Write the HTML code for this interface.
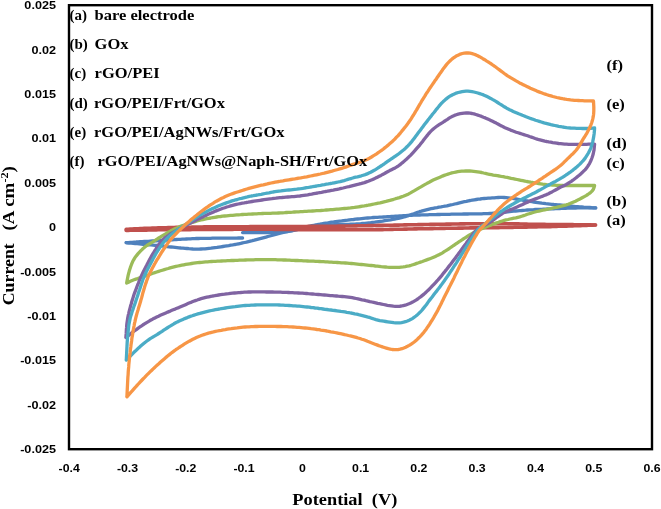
<!DOCTYPE html>
<html><head><meta charset="utf-8"><style>
html,body{margin:0;padding:0;background:#fff;}
svg{display:block;will-change:transform;}
.tick{font-family:"Liberation Sans",sans-serif;font-weight:bold;font-size:11px;fill:#000;}
.leg{font-family:"Liberation Serif",serif;font-weight:bold;font-size:15px;fill:#000;}
.rl{font-family:"Liberation Serif",serif;font-weight:bold;font-size:14px;fill:#000;}
.ttl{font-family:"Liberation Serif",serif;font-weight:bold;font-size:17px;fill:#000;}
</style></head><body>
<svg width="661" height="509" viewBox="0 0 661 509">
<rect x="0" y="0" width="661" height="509" fill="#fff"/>
<rect x="69" y="5.2" width="583" height="444" fill="none" stroke="#000" stroke-width="2.4"/>
<g fill="none" stroke-linecap="round" stroke-linejoin="round">
<path d="M126.2,242.7 L128.2,242.6 130.2,242.4 132.2,242.3 134.2,242.1 136.2,242.0 138.2,241.8 140.2,241.7 142.2,241.6 144.2,241.5 146.2,241.4 148.3,241.3 150.3,241.1 152.3,241.0 154.3,240.9 156.3,240.8 158.3,240.7 160.3,240.6 162.3,240.4 164.3,240.3 166.3,240.2 168.3,240.0 170.3,239.9 172.3,239.8 174.3,239.7 176.3,239.5 178.3,239.4 180.3,239.3 182.3,239.2 184.4,239.1 186.4,239.0 188.4,238.9 190.4,238.8 192.4,238.7 194.4,238.6 196.4,238.5 198.4,238.5 200.4,238.4 202.4,238.4 204.4,238.4 206.4,238.3 208.4,238.3 210.5,238.3 212.5,238.2 214.5,238.2 216.5,238.2 218.5,238.2 220.5,238.2 222.5,238.2 224.5,238.1 226.5,238.1 228.5,238.1 230.5,238.1 232.6,238.1 234.6,238.1 236.6,238.1 238.6,238.0 240.6,238.0 242.6,238.0" stroke="#4F81BD" stroke-width="3.3"/>
<path d="M242.6,232.6 L244.6,232.6 246.6,232.6 248.6,232.6 250.6,232.6 252.6,232.6 254.6,232.6 256.6,232.6 258.6,232.6 260.6,232.6 262.6,232.6 264.6,232.6 266.6,232.6 268.7,232.7 270.7,232.6 272.7,232.6 274.7,232.5 276.7,232.4 278.7,232.3 280.7,232.1 282.7,232.0 284.7,231.8 286.6,231.5 288.6,231.3 290.6,230.9 292.6,230.6 294.5,230.1 296.5,229.7 298.4,229.2 300.4,228.7 302.3,228.2 304.2,227.7 306.2,227.2 308.1,226.7 310.1,226.2 312.0,225.7 314.0,225.3 315.9,224.9 317.9,224.5 319.9,224.2 321.8,223.8 323.8,223.5 325.8,223.2 327.8,222.9 329.8,222.5 331.7,222.2 333.7,222.0 335.7,221.7 337.7,221.4 339.7,221.1 341.7,220.9 343.7,220.6 345.6,220.4 347.6,220.2 349.6,219.9 351.6,219.7 353.6,219.5 355.6,219.2 357.6,219.0 359.6,218.8 361.6,218.6 363.6,218.4 365.6,218.2 367.6,218.0 369.6,217.8 371.6,217.7 373.6,217.5 375.6,217.4 377.6,217.3 379.6,217.2 381.6,217.1 383.6,217.0 385.6,216.9 387.6,216.7 389.6,216.6 391.6,216.5 393.6,216.4 395.6,216.2 397.6,216.1 399.6,216.0 401.6,215.9 403.6,215.7 405.6,215.6 407.6,215.5 409.6,215.4 411.6,215.3 413.6,215.2 415.6,215.1 417.6,215.1 419.6,215.0 421.6,214.9 423.6,214.9 425.6,214.8 427.6,214.8 429.6,214.7 431.6,214.7 433.6,214.6 435.6,214.6 437.6,214.5 439.6,214.5 441.6,214.4 443.6,214.4 445.6,214.4 447.6,214.3 449.6,214.3 451.6,214.2 453.6,214.2 455.6,214.2 457.6,214.1 459.6,214.1 461.7,214.1 463.7,214.0 465.7,214.0 467.7,214.0 469.7,213.9 471.7,213.9 473.7,213.9 475.7,213.9 477.7,213.8 479.7,213.8 481.7,213.8 483.7,213.7 485.7,213.7 487.7,213.6 489.7,213.5 491.7,213.4 493.7,213.2 495.7,213.1 497.7,212.9 499.7,212.7 501.7,212.4 503.7,212.2 505.7,212.0 507.7,211.8 509.6,211.6 511.6,211.4 513.6,211.2 515.6,211.0 517.6,210.8 519.6,210.6 521.6,210.5 523.6,210.3 525.6,210.2 527.6,210.0 529.6,209.9 531.6,209.8 533.6,209.7 535.6,209.5 537.6,209.4 539.6,209.3 541.6,209.3 543.6,209.2 545.6,209.1 547.6,209.0 549.6,208.9 551.6,208.8 553.6,208.8 555.6,208.7 557.6,208.6 559.6,208.5 561.6,208.4 563.6,208.4 565.6,208.3 567.6,208.2 569.7,208.1 571.7,208.1 573.7,208.0 575.7,208.0 577.7,207.9 579.7,207.9 581.7,207.9 583.7,207.9 585.7,207.9 587.7,207.9 589.7,207.9 591.7,207.9 593.7,207.9 595.7,207.9" stroke="#4F81BD" stroke-width="3.3"/>
<path d="M595.7,207.9 L593.7,207.8 591.7,207.7 589.7,207.5 587.7,207.4 585.7,207.3 583.7,207.2 581.7,207.0 579.7,206.9 577.7,206.7 575.7,206.6 573.7,206.4 571.7,206.2 569.7,206.0 567.7,205.8 565.7,205.6 563.7,205.4 561.8,205.2 559.8,205.0 557.8,204.8 555.8,204.6 553.8,204.5 551.8,204.3 549.8,204.1 547.8,203.9 545.8,203.7 543.8,203.4 541.8,203.2 539.8,202.9 537.9,202.6 535.9,202.3 533.9,202.0 531.9,201.7 529.9,201.4 528.0,201.0 526.0,200.7 524.0,200.3 522.0,200.0 520.1,199.6 518.1,199.3 516.1,199.0 514.1,198.7 512.2,198.4 510.2,198.1 508.2,197.8 506.2,197.6 504.2,197.5 502.2,197.4 500.2,197.4 498.2,197.5 496.2,197.6 494.2,197.8 492.2,197.9 490.2,198.1 488.2,198.2 486.2,198.4 484.2,198.5 482.2,198.7 480.2,199.0 478.2,199.2 476.3,199.5 474.3,199.8 472.3,200.1 470.3,200.5 468.4,200.8 466.4,201.3 464.4,201.7 462.5,202.1 460.5,202.6 458.6,203.1 456.7,203.6 454.7,204.0 452.8,204.5 450.8,204.9 448.8,205.3 446.9,205.8 444.9,206.1 442.9,206.5 441.0,206.9 439.0,207.2 437.0,207.6 435.1,207.9 433.1,208.3 431.1,208.7 429.2,209.1 427.2,209.6 425.3,210.1 423.4,210.6 421.4,211.2 419.5,211.7 417.6,212.3 415.7,213.0 413.8,213.7 411.9,214.3 410.0,215.0 408.1,215.7 406.2,216.3 404.3,216.8 402.4,217.4 400.4,217.9 398.5,218.3 396.5,218.7 394.6,219.1 392.6,219.4 390.6,219.8 388.6,220.1 386.7,220.4 384.7,220.7 382.7,221.1 380.7,221.3 378.7,221.6 376.8,221.9 374.8,222.2 372.8,222.4 370.8,222.7 368.8,222.9 366.8,223.1 364.8,223.3 362.8,223.5 360.8,223.7 358.8,223.8 356.8,223.9 354.8,224.1 352.8,224.2 350.8,224.2 348.8,224.3 346.8,224.4 344.8,224.4 342.8,224.5 340.8,224.5 338.8,224.6 336.8,224.7 334.8,224.7 332.8,224.8 330.8,225.0 328.8,225.1 326.8,225.3 324.8,225.4 322.8,225.6 320.8,225.8 318.8,226.0 316.8,226.3 314.9,226.5 312.9,226.8 310.9,227.1 308.9,227.4 306.9,227.8 305.0,228.1 303.0,228.5 301.0,228.8 299.1,229.2 297.1,229.6 295.1,230.0 293.2,230.4 291.2,230.8 289.2,231.2 287.3,231.6 285.3,232.0 283.4,232.5 281.4,233.0 279.5,233.4 277.5,233.9 275.6,234.5 273.7,235.0 271.7,235.5 269.8,236.0 267.9,236.5 265.9,237.1 264.0,237.6 262.1,238.1 260.1,238.6 258.2,239.1 256.3,239.6 254.3,240.2 252.4,240.7 250.4,241.1 248.5,241.6 246.5,242.1 244.6,242.5 242.6,242.9 240.7,243.4 238.7,243.8 236.7,244.2 234.8,244.5 232.8,244.9 230.8,245.2 228.8,245.6 226.9,245.9 224.9,246.2 222.9,246.5 220.9,246.8 218.9,247.1 217.0,247.4 215.0,247.6 213.0,247.9 211.0,248.2 209.0,248.4 207.0,248.6 205.0,248.8 203.0,248.9 201.0,249.0 199.0,249.1 197.0,249.1 195.0,249.1 193.0,249.0 191.0,248.8 189.0,248.7 187.0,248.5 185.0,248.3 183.0,248.1 181.0,248.0 179.0,247.8 177.1,247.6 175.1,247.4 173.1,247.2 171.1,247.0 169.1,246.8 167.1,246.6 165.1,246.3 163.1,246.1 161.1,245.9 159.1,245.7 157.1,245.5 155.1,245.3 153.1,245.1 151.1,244.9 149.1,244.8 147.2,244.6 145.2,244.4 143.2,244.3 141.2,244.1 139.2,243.9 137.2,243.7 135.2,243.6 133.2,243.4 131.2,243.2 129.2,243.0 127.2,242.8 126.2,242.7" stroke="#4F81BD" stroke-width="3.3"/>
<path d="M126.2,229.4 L128.2,229.3 130.2,229.1 132.2,229.0 134.2,228.9 136.2,228.8 138.2,228.7 140.2,228.6 142.2,228.5 144.2,228.4 146.2,228.3 148.2,228.3 150.2,228.2 152.2,228.1 154.2,228.0 156.2,228.0 158.2,227.9 160.2,227.9 162.2,227.8 164.2,227.8 166.2,227.7 168.2,227.6 170.2,227.6 172.2,227.5 174.2,227.5 176.2,227.4 178.2,227.4 180.2,227.4 182.2,227.3 184.2,227.3 186.2,227.2 188.2,227.2 190.2,227.2 192.2,227.1 194.2,227.1 196.2,227.1 198.2,227.0 200.2,227.0 202.2,227.0 204.2,226.9 206.2,226.9 208.2,226.9 210.2,226.9 212.2,226.8 214.2,226.8 216.2,226.8 218.2,226.8 220.2,226.8 222.2,226.8 224.2,226.8 226.2,226.7 228.2,226.7 230.2,226.7 232.2,226.7 234.2,226.7 236.2,226.7 238.2,226.7 240.2,226.7 242.2,226.7 244.2,226.7 246.2,226.7 248.3,226.7 250.3,226.6 252.3,226.6 254.3,226.6 256.3,226.6 258.3,226.6 260.3,226.6 262.3,226.6 264.3,226.6 266.3,226.6 268.3,226.6 270.3,226.6 272.3,226.6 274.3,226.6 276.3,226.6 278.3,226.6 280.3,226.5 282.3,226.5 284.3,226.5 286.3,226.5 288.3,226.5 290.3,226.5 292.3,226.5 294.3,226.5 296.3,226.5 298.3,226.5 300.3,226.5 302.3,226.5 304.3,226.5 306.3,226.5 308.3,226.4 310.3,226.4 312.3,226.4 314.3,226.4 316.3,226.4 318.3,226.4 320.3,226.3 322.3,226.3 324.3,226.3 326.3,226.3 328.3,226.3 330.3,226.2 332.3,226.2 334.3,226.2 336.3,226.2 338.3,226.1 340.3,226.1 342.3,226.1 344.3,226.1 346.3,226.0 348.3,226.0 350.3,226.0 352.3,226.0 354.3,225.9 356.3,225.9 358.3,225.8 360.3,225.8 362.3,225.8 364.3,225.7 366.3,225.7 368.3,225.6 370.3,225.6 372.3,225.6 374.3,225.5 376.3,225.5 378.3,225.4 380.4,225.4 382.4,225.4 384.4,225.3 386.4,225.3 388.4,225.3 390.4,225.2 392.4,225.2 394.4,225.1 396.4,225.1 398.4,225.1 400.4,225.0 402.4,225.0 404.4,224.9 406.4,224.9 408.4,224.8 410.4,224.8 412.4,224.8 414.4,224.7 416.4,224.7 418.4,224.6 420.4,224.6 422.4,224.6 424.4,224.5 426.4,224.5 428.4,224.5 430.4,224.4 432.4,224.4 434.4,224.4 436.4,224.3 438.4,224.3 440.4,224.2 442.4,224.2 444.4,224.2 446.4,224.1 448.4,224.1 450.4,224.1 452.4,224.0 454.4,224.0 456.4,224.0 458.4,224.0 460.4,223.9 462.4,223.9 464.4,223.9 466.4,223.8 468.4,223.8 470.4,223.8 472.4,223.8 474.4,223.7 476.4,223.7 478.4,223.7 480.4,223.7 482.4,223.7 484.4,223.7 486.4,223.7 488.4,223.7 490.4,223.7 492.4,223.7 494.4,223.7 496.4,223.7 498.4,223.7 500.4,223.7 502.4,223.7 504.4,223.7 506.4,223.8 508.4,223.8 510.4,223.8 512.4,223.8 514.4,223.9 516.4,223.9 518.4,223.9 520.4,224.0 522.4,224.0 524.4,224.1 526.5,224.1 528.5,224.2 530.5,224.2 532.5,224.3 534.5,224.3 536.5,224.3 538.5,224.4 540.5,224.4 542.5,224.4 544.5,224.4 546.5,224.5 548.5,224.5 550.5,224.5 552.5,224.5 554.5,224.5 556.5,224.5 558.5,224.5 560.5,224.5 562.5,224.5 564.5,224.6 566.5,224.6 568.5,224.6 570.5,224.6 572.5,224.6 574.5,224.7 576.5,224.7 578.5,224.7 580.5,224.8 582.5,224.8 584.5,224.8 586.5,224.9 588.5,224.9 590.5,224.9 592.5,225.0 594.5,225.0 595.5,225.0" stroke="#C0504D" stroke-width="3.6"/>
<path d="M126.2,230.4 L128.2,230.4 130.2,230.3 132.2,230.3 134.2,230.3 136.2,230.3 138.2,230.2 140.2,230.2 142.2,230.2 144.2,230.1 146.2,230.1 148.2,230.0 150.2,230.0 152.2,229.9 154.2,229.9 156.2,229.9 158.2,229.8 160.2,229.8 162.2,229.8 164.2,229.8 166.2,229.7 168.2,229.7 170.2,229.7 172.2,229.7 174.2,229.7 176.2,229.7 178.2,229.6 180.2,229.6 182.2,229.6 184.2,229.6 186.2,229.6 188.2,229.6 190.2,229.6 192.2,229.5 194.2,229.5 196.2,229.5 198.2,229.5 200.3,229.5 202.3,229.5 204.3,229.5 206.3,229.5 208.3,229.5 210.3,229.4 212.3,229.4 214.3,229.4 216.3,229.4 218.3,229.4 220.3,229.4 222.3,229.4 224.3,229.4 226.3,229.4 228.3,229.4 230.3,229.4 232.3,229.4 234.3,229.3 236.3,229.3 238.3,229.3 240.3,229.3 242.3,229.3 244.3,229.3 246.3,229.3 248.3,229.3 250.3,229.3 252.3,229.3 254.3,229.3 256.3,229.3 258.3,229.3 260.3,229.3 262.3,229.3 264.3,229.3 266.3,229.3 268.3,229.3 270.3,229.3 272.3,229.3 274.3,229.4 276.3,229.4 278.3,229.4 280.3,229.4 282.3,229.4 284.3,229.5 286.3,229.5 288.3,229.5 290.3,229.5 292.3,229.5 294.3,229.6 296.3,229.6 298.3,229.6 300.3,229.6 302.3,229.6 304.3,229.6 306.3,229.6 308.3,229.7 310.3,229.7 312.3,229.7 314.3,229.7 316.3,229.7 318.3,229.7 320.3,229.7 322.3,229.7 324.3,229.7 326.3,229.7 328.3,229.7 330.4,229.8 332.4,229.8 334.4,229.8 336.4,229.8 338.4,229.8 340.4,229.8 342.4,229.8 344.4,229.8 346.4,229.8 348.4,229.8 350.4,229.8 352.4,229.8 354.4,229.8 356.4,229.8 358.4,229.8 360.4,229.8 362.4,229.8 364.4,229.7 366.4,229.7 368.4,229.7 370.4,229.7 372.4,229.7 374.4,229.7 376.4,229.6 378.4,229.6 380.4,229.6 382.4,229.6 384.4,229.5 386.4,229.5 388.4,229.5 390.4,229.4 392.4,229.4 394.4,229.3 396.4,229.3 398.4,229.3 400.4,229.2 402.4,229.2 404.4,229.1 406.4,229.1 408.4,229.0 410.4,229.0 412.4,229.0 414.4,228.9 416.4,228.9 418.4,228.8 420.4,228.8 422.4,228.8 424.4,228.7 426.4,228.7 428.4,228.7 430.4,228.6 432.4,228.6 434.4,228.5 436.4,228.5 438.4,228.5 440.4,228.4 442.4,228.4 444.4,228.4 446.4,228.3 448.4,228.3 450.4,228.3 452.4,228.2 454.4,228.2 456.4,228.2 458.4,228.1 460.4,228.1 462.4,228.1 464.4,228.0 466.4,228.0 468.4,228.0 470.4,227.9 472.4,227.9 474.4,227.9 476.4,227.8 478.4,227.8 480.4,227.8 482.5,227.8 484.5,227.7 486.5,227.7 488.5,227.7 490.5,227.7 492.5,227.6 494.5,227.6 496.5,227.6 498.5,227.6 500.5,227.5 502.5,227.5 504.5,227.5 506.5,227.5 508.5,227.4 510.5,227.4 512.5,227.4 514.5,227.3 516.5,227.3 518.5,227.2 520.5,227.2 522.5,227.2 524.5,227.1 526.5,227.1 528.5,227.0 530.5,227.0 532.5,227.0 534.5,226.9 536.5,226.9 538.5,226.8 540.5,226.8 542.5,226.7 544.5,226.7 546.5,226.7 548.5,226.6 550.5,226.6 552.5,226.5 554.5,226.5 556.5,226.4 558.5,226.3 560.5,226.3 562.5,226.2 564.5,226.2 566.5,226.1 568.5,226.0 570.5,226.0 572.5,225.9 574.5,225.8 576.5,225.8 578.5,225.7 580.5,225.6 582.5,225.5 584.5,225.4 586.5,225.4 588.5,225.3 590.5,225.2 592.5,225.1 594.5,225.0 595.5,225.0" stroke="#C0504D" stroke-width="3.6"/>
<path d="M126.7,283.0 L127.0,281.0 127.4,279.1 127.8,277.1 128.2,275.1 128.7,273.2 129.2,271.3 129.8,269.3 130.4,267.4 131.1,265.5 131.8,263.7 132.6,261.8 133.5,260.1 134.5,258.4 135.6,256.7 136.9,255.1 138.1,253.6 139.5,252.1 140.9,250.7 142.3,249.3 143.8,247.9 145.3,246.6 146.9,245.5 148.6,244.4 150.3,243.3 152.0,242.3 153.7,241.3 155.5,240.2 157.1,239.1 158.8,238.0 160.5,237.0 162.2,235.9 163.9,234.8 165.6,233.8 167.3,232.8 169.1,231.8 170.8,230.8 172.6,229.9 174.4,229.0 176.2,228.2 178.1,227.4 179.9,226.6 181.8,225.9 183.7,225.2 185.6,224.6 187.5,223.9 189.4,223.3 191.3,222.7 193.2,222.1 195.1,221.6 197.0,221.0 199.0,220.5 200.9,220.0 202.9,219.6 204.8,219.2 206.8,218.7 208.8,218.3 210.7,218.0 212.7,217.6 214.7,217.3 216.7,217.0 218.6,216.7 220.6,216.5 222.6,216.2 224.6,216.0 226.6,215.8 228.6,215.6 230.6,215.4 232.6,215.3 234.6,215.1 236.6,214.9 238.6,214.8 240.6,214.7 242.6,214.5 244.6,214.4 246.6,214.3 248.6,214.2 250.6,214.1 252.6,214.0 254.6,213.9 256.6,213.8 258.6,213.7 260.6,213.6 262.6,213.5 264.6,213.4 266.6,213.4 268.6,213.3 270.6,213.3 272.6,213.2 274.6,213.1 276.6,213.1 278.6,213.0 280.6,212.9 282.6,212.8 284.6,212.7 286.6,212.5 288.6,212.4 290.6,212.3 292.6,212.2 294.6,212.0 296.6,211.9 298.6,211.8 300.6,211.7 302.6,211.6 304.6,211.4 306.6,211.3 308.6,211.2 310.6,211.1 312.6,211.0 314.6,210.9 316.6,210.7 318.6,210.6 320.6,210.5 322.6,210.3 324.6,210.2 326.6,210.0 328.6,209.9 330.6,209.7 332.6,209.6 334.6,209.4 336.6,209.2 338.6,209.1 340.6,208.9 342.5,208.7 344.5,208.5 346.5,208.3 348.5,208.1 350.5,207.9 352.5,207.6 354.5,207.4 356.5,207.1 358.5,206.8 360.4,206.5 362.4,206.2 364.4,205.9 366.4,205.5 368.3,205.2 370.3,204.8 372.3,204.4 374.2,204.0 376.2,203.6 378.2,203.2 380.1,202.8 382.1,202.3 384.0,201.8 386.0,201.4 387.9,200.9 389.8,200.4 391.8,199.8 393.7,199.3 395.6,198.7 397.5,198.2 399.5,197.6 401.4,196.9 403.2,196.3 405.1,195.5 406.9,194.7 408.7,193.9 410.5,192.9 412.2,191.9 414.0,190.9 415.7,189.9 417.4,188.9 419.1,187.9 420.9,186.9 422.6,185.9 424.3,184.9 426.1,183.9 427.8,182.9 429.6,182.0 431.4,181.0 433.2,180.1 435.0,179.3 436.8,178.5 438.7,177.7 440.5,176.9 442.4,176.1 444.2,175.4 446.1,174.7 448.0,174.1 449.9,173.5 451.8,172.9 453.8,172.5 455.7,172.1 457.7,171.7 459.7,171.4 461.7,171.2 463.7,171.1 465.7,171.0 467.7,171.0 469.7,171.0 471.7,171.2 473.7,171.4 475.7,171.6 477.6,171.9 479.6,172.2 481.6,172.5 483.6,173.0 485.5,173.4 487.4,173.9 489.4,174.3 491.4,174.7 493.3,175.1 495.3,175.4 497.3,175.7 499.3,176.0 501.2,176.4 503.2,176.7 505.2,177.1 507.2,177.4 509.1,177.8 511.1,178.3 513.0,178.7 515.0,179.1 517.0,179.5 518.9,179.9 520.9,180.3 522.8,180.7 524.8,181.1 526.8,181.5 528.7,181.8 530.7,182.2 532.7,182.5 534.7,182.9 536.6,183.2 538.6,183.5 540.6,183.8 542.6,184.1 544.6,184.3 546.6,184.6 548.6,184.8 550.5,184.9 552.5,185.1 554.5,185.2 556.5,185.3 558.5,185.4 560.5,185.5 562.5,185.5 564.6,185.6 566.6,185.6 568.6,185.6 570.6,185.6 572.6,185.5 574.6,185.5 576.6,185.5 578.6,185.5 580.6,185.5 582.6,185.5 584.6,185.5 586.6,185.5 588.6,185.5 590.6,185.5 592.6,185.5 594.6,185.5 L594.1,187.4 593.4,189.2 592.3,190.8 590.9,192.2 589.4,193.4 587.8,194.5 586.1,195.6 584.3,196.6 582.6,197.5 580.8,198.5 579.0,199.4 577.3,200.3 575.5,201.2 573.6,202.0 571.8,202.8 570.0,203.6 568.1,204.3 566.2,204.9 564.3,205.4 562.3,205.9 560.4,206.4 558.4,206.8 556.5,207.3 554.5,207.7 552.6,208.1 550.6,208.6 548.7,209.0 546.7,209.4 544.7,209.8 542.8,210.2 540.8,210.6 538.9,211.1 536.9,211.5 535.0,212.0 533.1,212.5 531.1,213.1 529.2,213.7 527.3,214.3 525.5,215.0 523.6,215.6 521.7,216.2 519.7,216.8 517.8,217.3 515.9,217.8 513.9,218.2 512.0,218.6 510.0,219.0 508.0,219.5 506.1,219.9 504.2,220.4 502.3,221.0 500.4,221.6 498.5,222.3 496.6,222.9 494.7,223.6 492.8,224.3 491.0,225.1 489.1,225.8 487.2,226.5 485.4,227.3 483.5,228.0 481.7,228.8 479.8,229.6 478.0,230.4 476.2,231.2 474.4,232.2 472.7,233.1 471.0,234.1 469.2,235.2 467.6,236.2 465.9,237.3 464.2,238.4 462.5,239.5 460.9,240.6 459.2,241.7 457.5,242.8 455.9,243.9 454.2,245.1 452.6,246.2 450.9,247.3 449.3,248.5 447.6,249.6 445.9,250.7 444.2,251.7 442.5,252.8 440.8,253.8 439.0,254.7 437.2,255.6 435.4,256.4 433.6,257.2 431.7,258.0 429.9,258.7 428.0,259.4 426.1,260.1 424.3,260.8 422.4,261.5 420.5,262.1 418.6,262.8 416.7,263.4 414.8,264.1 412.9,264.7 411.0,265.3 409.1,265.8 407.1,266.2 405.2,266.6 403.2,266.9 401.2,267.1 399.2,267.3 397.2,267.3 395.2,267.4 393.2,267.4 391.2,267.3 389.2,267.3 387.2,267.2 385.2,267.0 383.2,266.9 381.2,266.7 379.2,266.4 377.3,266.2 375.3,266.0 373.3,265.7 371.3,265.5 369.3,265.3 367.3,265.1 365.3,264.9 363.3,264.7 361.4,264.5 359.4,264.3 357.4,264.1 355.4,263.9 353.4,263.7 351.4,263.5 349.4,263.4 347.4,263.2 345.4,263.0 343.4,262.9 341.4,262.8 339.4,262.6 337.4,262.5 335.4,262.4 333.4,262.3 331.4,262.2 329.4,262.1 327.5,261.9 325.5,261.8 323.5,261.7 321.5,261.6 319.5,261.5 317.5,261.4 315.5,261.3 313.5,261.2 311.5,261.1 309.5,261.1 307.5,261.0 305.5,260.9 303.5,260.8 301.5,260.7 299.5,260.6 297.5,260.5 295.5,260.5 293.5,260.4 291.5,260.3 289.5,260.2 287.5,260.1 285.5,260.0 283.5,260.0 281.5,259.9 279.5,259.8 277.5,259.8 275.5,259.7 273.5,259.7 271.5,259.6 269.5,259.6 267.5,259.6 265.5,259.6 263.5,259.6 261.5,259.6 259.5,259.6 257.5,259.7 255.5,259.7 253.5,259.8 251.5,259.8 249.5,259.9 247.5,259.9 245.5,260.0 243.5,260.1 241.5,260.1 239.5,260.2 237.5,260.3 235.5,260.4 233.5,260.5 231.5,260.5 229.5,260.6 227.5,260.7 225.5,260.8 223.5,260.9 221.5,261.0 219.5,261.1 217.5,261.2 215.5,261.3 213.5,261.4 211.5,261.5 209.5,261.6 207.5,261.8 205.6,261.9 203.6,262.1 201.6,262.3 199.6,262.5 197.6,262.7 195.6,262.9 193.6,263.2 191.6,263.5 189.7,263.8 187.7,264.1 185.7,264.4 183.8,264.8 181.8,265.2 179.8,265.6 177.9,266.0 175.9,266.4 174.0,266.9 172.0,267.4 170.1,267.9 168.2,268.5 166.3,269.0 164.3,269.6 162.4,270.2 160.5,270.8 158.6,271.4 156.7,272.0 154.8,272.6 152.9,273.2 151.0,273.9 149.1,274.6 147.3,275.2 145.4,275.9 143.5,276.5 141.6,277.2 139.7,277.8 137.8,278.5 135.9,279.1 134.0,279.8 132.2,280.5 130.3,281.3 128.5,282.2 126.7,283.0" stroke="#9BBB59" stroke-width="3.3"/>
<path d="M125.9,337.4 L126.0,335.4 126.2,333.4 126.3,331.4 126.4,329.4 126.6,327.4 126.7,325.4 126.9,323.4 127.2,321.4 127.5,319.5 127.8,317.5 128.2,315.5 128.7,313.6 129.1,311.6 129.6,309.7 130.1,307.8 130.6,305.8 131.2,303.9 131.7,302.0 132.3,300.1 132.9,298.1 133.5,296.2 134.1,294.3 134.8,292.4 135.5,290.6 136.2,288.7 136.9,286.8 137.6,285.0 138.4,283.1 139.1,281.2 139.9,279.4 140.7,277.5 141.5,275.7 142.3,273.9 143.2,272.1 144.1,270.3 145.0,268.5 145.9,266.7 146.8,265.0 147.7,263.2 148.7,261.4 149.6,259.6 150.5,257.9 151.5,256.1 152.5,254.4 153.6,252.7 154.6,251.0 155.7,249.3 156.7,247.6 157.9,245.9 159.0,244.3 160.2,242.7 161.5,241.2 162.9,239.7 164.3,238.4 165.9,237.1 167.5,236.0 169.2,234.8 170.8,233.7 172.5,232.7 174.3,231.7 176.0,230.7 177.8,229.7 179.5,228.8 181.3,227.9 183.1,226.9 184.8,226.0 186.6,225.1 188.4,224.1 190.2,223.2 191.9,222.3 193.7,221.4 195.5,220.5 197.3,219.6 199.1,218.7 200.9,217.8 202.7,216.9 204.5,216.1 206.3,215.2 208.1,214.3 209.9,213.5 211.8,212.7 213.6,211.9 215.5,211.1 217.3,210.4 219.2,209.7 221.1,209.0 222.9,208.3 224.8,207.7 226.7,207.0 228.6,206.5 230.6,205.9 232.5,205.4 234.4,204.9 236.4,204.4 238.3,204.0 240.3,203.6 242.3,203.2 244.2,202.9 246.2,202.5 248.2,202.2 250.2,201.8 252.1,201.5 254.1,201.2 256.1,200.9 258.1,200.6 260.0,200.3 262.0,200.0 264.0,199.7 266.0,199.4 268.0,199.1 269.9,198.8 271.9,198.6 273.9,198.3 275.9,198.1 277.9,197.8 279.9,197.6 281.9,197.5 283.9,197.3 285.9,197.1 287.9,197.0 289.9,196.9 291.9,196.7 293.9,196.6 295.9,196.4 297.8,196.2 299.8,196.0 301.8,195.7 303.8,195.4 305.8,195.1 307.7,194.8 309.7,194.4 311.7,194.1 313.7,193.7 315.6,193.3 317.6,193.0 319.6,192.6 321.5,192.3 323.5,191.9 325.5,191.5 327.4,191.2 329.4,190.8 331.4,190.4 333.3,190.1 335.3,189.7 337.3,189.3 339.2,188.9 341.2,188.4 343.1,188.0 345.1,187.5 347.0,187.0 349.0,186.6 350.9,186.1 352.8,185.6 354.8,185.1 356.7,184.6 358.7,184.2 360.6,183.7 362.5,183.1 364.5,182.6 366.4,181.9 368.2,181.3 370.1,180.5 372.0,179.8 373.8,178.9 375.6,178.1 377.4,177.2 379.2,176.3 381.0,175.4 382.7,174.4 384.5,173.5 386.2,172.5 388.0,171.5 389.7,170.6 391.5,169.7 393.3,168.8 395.1,167.9 396.8,166.9 398.5,165.8 400.1,164.6 401.7,163.3 403.2,162.1 404.7,160.8 406.2,159.4 407.7,158.1 409.1,156.7 410.5,155.3 411.9,153.8 413.3,152.3 414.6,150.9 415.9,149.4 417.2,147.9 418.6,146.3 419.9,144.8 421.1,143.3 422.4,141.7 423.6,140.1 424.8,138.5 426.0,137.0 427.3,135.4 428.5,133.8 429.8,132.3 431.2,130.9 432.7,129.5 434.2,128.2 435.8,127.0 437.4,125.8 439.1,124.7 440.8,123.6 442.5,122.6 444.1,121.5 445.8,120.4 447.5,119.3 449.1,118.2 450.9,117.1 452.6,116.2 454.4,115.4 456.3,114.7 458.2,114.1 460.2,113.7 462.1,113.4 464.1,113.1 466.1,113.0 468.1,113.0 470.1,113.2 472.1,113.5 474.0,113.9 475.9,114.5 477.8,115.1 479.7,115.7 481.6,116.4 483.5,117.2 485.3,117.9 487.1,118.7 489.0,119.6 490.8,120.4 492.6,121.3 494.4,122.2 496.2,123.1 497.9,124.0 499.7,125.0 501.5,125.9 503.2,126.8 505.0,127.7 506.9,128.5 508.7,129.3 510.6,130.1 512.4,130.8 514.3,131.5 516.2,132.2 518.1,132.8 520.0,133.4 521.9,134.0 523.8,134.6 525.7,135.2 527.6,135.8 529.5,136.5 531.4,137.1 533.3,137.8 535.2,138.5 537.1,139.1 539.0,139.7 540.9,140.2 542.8,140.7 544.8,141.2 546.8,141.5 548.7,141.9 550.7,142.2 552.7,142.6 554.7,142.9 556.6,143.2 558.6,143.5 560.6,143.7 562.6,143.9 564.6,144.1 566.6,144.2 568.6,144.3 570.6,144.3 572.6,144.4 574.6,144.4 576.6,144.4 578.6,144.4 580.6,144.4 582.6,144.4 584.6,144.3 586.6,144.3 588.6,144.2 590.6,144.2 592.6,144.1 594.6,144.1 L594.4,146.1 594.2,148.1 594.0,150.1 593.6,152.0 593.2,154.0 592.6,155.9 592.0,157.8 591.3,159.7 590.5,161.5 589.6,163.3 588.6,165.0 587.5,166.7 586.3,168.3 585.0,169.8 583.6,171.2 582.2,172.6 580.7,173.9 579.2,175.2 577.6,176.5 576.1,177.8 574.5,179.0 572.9,180.2 571.3,181.3 569.6,182.4 567.9,183.5 566.2,184.5 564.4,185.4 562.6,186.3 560.8,187.1 559.0,188.0 557.3,189.0 555.5,190.0 553.8,190.9 552.0,191.9 550.2,192.8 548.5,193.7 546.6,194.6 544.8,195.3 542.9,196.1 541.1,196.8 539.2,197.5 537.3,198.2 535.5,198.9 533.6,199.6 531.7,200.3 529.9,201.1 528.1,201.9 526.2,202.8 524.4,203.6 522.6,204.5 520.8,205.3 519.0,206.1 517.1,206.9 515.3,207.7 513.5,208.5 511.6,209.2 509.7,209.9 507.9,210.7 506.1,211.5 504.3,212.4 502.6,213.4 500.9,214.5 499.3,215.7 497.6,216.8 496.0,218.0 494.4,219.2 492.8,220.3 491.1,221.5 489.4,222.5 487.7,223.6 486.0,224.5 484.2,225.4 482.4,226.3 480.6,227.3 478.9,228.3 477.3,229.5 475.8,230.8 474.5,232.2 473.2,233.7 472.0,235.3 470.8,236.9 469.6,238.6 468.4,240.2 467.2,241.8 466.1,243.4 464.9,245.0 463.7,246.6 462.5,248.2 461.3,249.9 460.2,251.5 459.0,253.1 457.8,254.7 456.6,256.3 455.4,257.9 454.2,259.5 453.0,261.1 451.8,262.7 450.6,264.3 449.3,265.9 448.1,267.4 446.9,269.0 445.6,270.6 444.4,272.2 443.1,273.7 441.9,275.3 440.6,276.8 439.3,278.3 438.0,279.8 436.6,281.3 435.3,282.8 433.9,284.3 432.6,285.7 431.2,287.2 429.8,288.6 428.4,290.0 426.9,291.4 425.5,292.7 424.0,294.1 422.4,295.4 420.9,296.6 419.3,297.8 417.7,299.0 416.0,300.1 414.3,301.1 412.6,302.1 410.8,303.0 409.0,303.8 407.1,304.5 405.2,305.2 403.3,305.6 401.3,306.0 399.3,306.3 397.3,306.4 395.3,306.4 393.4,306.2 391.4,305.9 389.4,305.6 387.4,305.3 385.5,304.9 383.5,304.5 381.6,304.1 379.6,303.7 377.6,303.3 375.7,302.8 373.7,302.4 371.8,302.0 369.8,301.6 367.9,301.1 365.9,300.7 364.0,300.2 362.0,299.8 360.1,299.3 358.1,298.9 356.2,298.5 354.2,298.1 352.2,297.7 350.3,297.4 348.3,297.1 346.3,296.9 344.3,296.7 342.3,296.5 340.3,296.3 338.3,296.2 336.3,296.0 334.3,295.9 332.4,295.7 330.4,295.6 328.4,295.4 326.4,295.2 324.4,295.0 322.4,294.9 320.4,294.7 318.4,294.5 316.4,294.3 314.4,294.2 312.4,294.0 310.4,293.8 308.4,293.7 306.4,293.5 304.4,293.4 302.5,293.2 300.5,293.1 298.5,293.0 296.5,292.9 294.5,292.8 292.5,292.7 290.5,292.6 288.5,292.5 286.5,292.4 284.5,292.3 282.5,292.3 280.5,292.2 278.5,292.2 276.5,292.1 274.5,292.1 272.5,292.0 270.5,292.0 268.5,292.0 266.5,292.0 264.5,291.9 262.5,291.9 260.5,291.9 258.5,291.9 256.5,291.9 254.5,291.9 252.5,291.9 250.5,292.0 248.5,292.0 246.5,292.1 244.5,292.2 242.5,292.3 240.5,292.5 238.5,292.6 236.5,292.8 234.5,293.0 232.5,293.2 230.5,293.4 228.6,293.7 226.6,293.9 224.6,294.2 222.6,294.4 220.6,294.7 218.6,295.0 216.7,295.3 214.7,295.7 212.7,296.0 210.8,296.4 208.8,296.8 206.9,297.2 204.9,297.7 203.0,298.2 201.1,298.7 199.1,299.3 197.2,300.0 195.4,300.6 193.5,301.3 191.6,302.1 189.8,302.8 187.9,303.6 186.1,304.4 184.3,305.2 182.4,306.0 180.6,306.8 178.8,307.6 176.9,308.3 175.1,309.1 173.2,309.8 171.3,310.6 169.5,311.4 167.7,312.1 165.8,312.9 164.0,313.7 162.1,314.5 160.3,315.3 158.5,316.2 156.7,317.0 154.9,317.9 153.1,318.8 151.4,319.8 149.6,320.8 147.9,321.8 146.2,322.8 144.5,323.9 142.8,325.0 141.2,326.1 139.5,327.2 137.9,328.4 136.3,329.6 134.7,330.7 133.0,331.9 131.5,333.1 129.9,334.4 128.3,335.6 126.7,336.8 125.9,337.4" stroke="#8064A2" stroke-width="3.3"/>
<path d="M126.3,360.0 L126.4,358.0 126.5,356.0 126.6,354.0 126.7,352.0 126.8,350.0 126.9,348.0 127.0,346.0 127.1,344.0 127.2,342.0 127.4,340.0 127.5,338.0 127.7,336.0 127.9,334.0 128.1,332.0 128.3,330.1 128.5,328.1 128.7,326.1 129.0,324.1 129.4,322.1 129.8,320.2 130.2,318.2 130.7,316.3 131.3,314.4 131.9,312.5 132.5,310.6 133.2,308.7 133.8,306.8 134.5,304.9 135.2,303.0 135.8,301.1 136.4,299.2 137.1,297.3 137.7,295.4 138.3,293.5 138.9,291.6 139.6,289.7 140.2,287.8 140.8,285.9 141.4,284.0 142.1,282.1 142.7,280.2 143.4,278.3 144.2,276.5 145.0,274.6 145.8,272.8 146.7,271.0 147.6,269.3 148.5,267.5 149.5,265.7 150.4,264.0 151.3,262.2 152.3,260.4 153.2,258.6 154.1,256.9 155.1,255.1 156.1,253.4 157.2,251.7 158.2,250.0 159.3,248.3 160.4,246.7 161.6,245.0 162.7,243.4 164.0,241.8 165.3,240.3 166.6,238.8 168.0,237.4 169.5,236.1 171.0,234.8 172.6,233.5 174.2,232.3 175.8,231.1 177.4,230.0 179.1,228.9 180.8,227.8 182.5,226.7 184.1,225.6 185.8,224.5 187.4,223.3 189.1,222.2 190.7,221.0 192.4,219.9 194.1,218.8 195.7,217.8 197.5,216.7 199.2,215.7 200.9,214.7 202.7,213.7 204.4,212.7 206.2,211.8 207.9,210.9 209.7,209.9 211.5,209.1 213.3,208.2 215.1,207.4 217.0,206.6 218.8,205.8 220.7,205.0 222.5,204.3 224.4,203.6 226.3,202.9 228.2,202.2 230.1,201.6 232.0,200.9 233.9,200.4 235.8,199.8 237.7,199.3 239.6,198.7 241.6,198.3 243.5,197.8 245.5,197.3 247.4,196.9 249.4,196.4 251.3,196.0 253.3,195.7 255.3,195.3 257.2,195.0 259.2,194.6 261.2,194.3 263.2,193.9 265.1,193.5 267.1,193.1 269.1,192.8 271.0,192.4 273.0,192.0 275.0,191.7 276.9,191.4 278.9,191.1 280.9,190.9 282.9,190.6 284.9,190.4 286.9,190.2 288.9,190.0 290.9,189.8 292.8,189.6 294.8,189.4 296.8,189.2 298.8,188.9 300.8,188.7 302.8,188.4 304.7,188.0 306.7,187.7 308.7,187.4 310.7,187.0 312.6,186.7 314.6,186.3 316.6,186.0 318.5,185.6 320.5,185.3 322.5,184.9 324.5,184.6 326.4,184.2 328.4,183.9 330.4,183.5 332.3,183.2 334.3,182.8 336.3,182.4 338.2,182.0 340.2,181.6 342.1,181.1 344.1,180.6 346.0,180.0 347.9,179.4 349.8,178.8 351.7,178.3 353.6,177.7 355.6,177.2 357.5,176.8 359.5,176.3 361.4,175.8 363.3,175.2 365.2,174.6 367.1,173.9 368.9,173.0 370.7,172.2 372.5,171.2 374.2,170.3 375.9,169.3 377.7,168.2 379.3,167.1 381.0,166.0 382.7,164.9 384.3,163.8 385.9,162.6 387.6,161.4 389.2,160.3 390.9,159.2 392.5,158.1 394.2,156.9 395.8,155.8 397.5,154.7 399.1,153.5 400.7,152.2 402.2,151.0 403.8,149.7 405.3,148.4 406.7,147.0 408.1,145.6 409.5,144.1 410.8,142.6 412.1,141.1 413.3,139.5 414.5,137.9 415.7,136.3 416.9,134.7 418.1,133.1 419.3,131.5 420.5,129.9 421.7,128.3 422.9,126.7 424.1,125.1 425.3,123.5 426.6,121.9 427.8,120.3 429.0,118.8 430.2,117.2 431.5,115.6 432.7,114.0 434.0,112.5 435.2,110.9 436.4,109.3 437.7,107.8 439.0,106.2 440.3,104.7 441.6,103.2 443.0,101.8 444.5,100.4 446.0,99.1 447.5,97.9 449.2,96.7 450.8,95.7 452.6,94.7 454.4,93.9 456.3,93.1 458.2,92.5 460.1,92.1 462.1,91.7 464.0,91.4 466.0,91.2 468.0,91.2 470.0,91.4 472.0,91.6 473.9,92.0 475.9,92.5 477.8,93.0 479.7,93.6 481.6,94.2 483.5,94.9 485.3,95.7 487.1,96.6 488.9,97.5 490.7,98.4 492.4,99.4 494.2,100.4 495.9,101.4 497.6,102.5 499.3,103.6 501.0,104.6 502.6,105.7 504.3,106.8 506.1,107.8 507.8,108.8 509.6,109.7 511.4,110.5 513.2,111.4 515.0,112.2 516.9,113.0 518.7,113.8 520.6,114.5 522.4,115.3 524.3,116.0 526.1,116.8 528.0,117.5 529.9,118.2 531.8,118.9 533.7,119.5 535.5,120.2 537.4,120.8 539.3,121.4 541.3,122.0 543.2,122.6 545.1,123.2 547.0,123.7 549.0,124.2 550.9,124.7 552.9,125.1 554.8,125.5 556.8,125.9 558.7,126.3 560.7,126.6 562.7,127.0 564.7,127.3 566.6,127.6 568.6,127.8 570.6,128.0 572.6,128.1 574.6,128.2 576.6,128.3 578.6,128.4 580.6,128.4 582.6,128.5 584.6,128.5 586.6,128.5 588.6,128.5 590.6,128.4 592.6,128.2 594.6,128.0 L594.5,130.0 594.3,132.0 594.1,134.0 593.8,136.0 593.5,137.9 593.1,139.9 592.7,141.9 592.2,143.8 591.6,145.7 591.0,147.6 590.2,149.4 589.3,151.2 588.4,153.0 587.4,154.7 586.3,156.4 585.2,158.1 584.0,159.6 582.7,161.2 581.3,162.6 579.9,164.1 578.5,165.4 577.0,166.8 575.4,168.1 573.9,169.3 572.3,170.6 570.7,171.8 569.1,172.9 567.4,174.1 565.8,175.2 564.1,176.3 562.4,177.4 560.7,178.4 559.0,179.4 557.2,180.4 555.5,181.4 553.7,182.3 551.9,183.2 550.2,184.2 548.4,185.2 546.7,186.1 544.9,187.1 543.2,188.1 541.4,189.1 539.7,190.1 537.9,191.0 536.2,192.0 534.4,192.9 532.6,193.8 530.8,194.7 529.1,195.6 527.3,196.5 525.5,197.4 523.7,198.3 521.9,199.2 520.1,200.1 518.3,201.1 516.6,202.0 514.8,203.0 513.1,204.0 511.3,205.0 509.6,206.0 507.9,207.0 506.2,208.1 504.5,209.2 502.9,210.3 501.2,211.4 499.6,212.6 498.0,213.8 496.4,215.0 494.8,216.2 493.2,217.4 491.6,218.7 490.0,219.9 488.5,221.1 486.9,222.3 485.3,223.5 483.7,224.7 482.1,225.9 480.5,227.2 479.1,228.6 477.7,230.0 476.4,231.5 475.2,233.1 474.1,234.8 473.0,236.5 471.9,238.1 470.8,239.8 469.8,241.5 468.7,243.2 467.6,244.9 466.5,246.6 465.5,248.3 464.4,250.0 463.4,251.7 462.3,253.4 461.2,255.1 460.2,256.8 459.1,258.5 458.0,260.2 457.0,261.9 455.9,263.6 454.8,265.2 453.7,266.9 452.6,268.6 451.5,270.3 450.4,271.9 449.3,273.6 448.2,275.3 447.0,276.9 445.9,278.6 444.7,280.2 443.6,281.8 442.4,283.4 441.2,285.1 440.0,286.7 438.8,288.3 437.6,289.8 436.4,291.4 435.1,293.0 433.9,294.6 432.7,296.2 431.5,297.8 430.2,299.4 429.0,300.9 427.8,302.6 426.7,304.2 425.5,305.8 424.2,307.4 423.0,308.9 421.7,310.5 420.4,311.9 418.9,313.3 417.5,314.7 415.9,316.0 414.3,317.2 412.7,318.3 411.0,319.3 409.2,320.2 407.4,321.0 405.5,321.7 403.6,322.2 401.6,322.6 399.6,322.9 397.6,322.9 395.6,322.9 393.7,322.7 391.7,322.4 389.7,322.1 387.7,321.8 385.7,321.5 383.7,321.2 381.8,320.9 379.8,320.6 377.8,320.1 375.9,319.6 374.0,319.0 372.1,318.4 370.2,317.7 368.3,317.2 366.4,316.6 364.4,316.1 362.5,315.6 360.5,315.1 358.6,314.7 356.7,314.2 354.7,313.8 352.7,313.3 350.8,313.0 348.8,312.6 346.8,312.3 344.9,311.9 342.9,311.6 340.9,311.4 338.9,311.1 336.9,310.8 334.9,310.5 333.0,310.3 331.0,310.0 329.0,309.8 327.0,309.5 325.0,309.3 323.0,309.0 321.0,308.7 319.1,308.5 317.1,308.2 315.1,308.0 313.1,307.7 311.1,307.5 309.1,307.2 307.1,307.0 305.1,306.8 303.2,306.6 301.2,306.4 299.2,306.2 297.2,306.1 295.2,305.9 293.2,305.8 291.2,305.6 289.2,305.5 287.2,305.4 285.2,305.3 283.2,305.2 281.2,305.1 279.2,305.0 277.2,304.9 275.2,304.9 273.2,304.8 271.2,304.8 269.2,304.8 267.2,304.8 265.2,304.8 263.2,304.8 261.2,304.9 259.2,304.9 257.2,304.9 255.2,305.0 253.2,305.1 251.2,305.2 249.2,305.3 247.2,305.4 245.2,305.5 243.2,305.7 241.2,305.9 239.2,306.1 237.2,306.3 235.2,306.6 233.2,306.8 231.2,307.1 229.2,307.4 227.3,307.7 225.3,308.0 223.3,308.3 221.3,308.6 219.4,309.0 217.4,309.3 215.4,309.7 213.5,310.1 211.5,310.5 209.5,310.9 207.6,311.3 205.6,311.8 203.7,312.3 201.8,312.8 199.8,313.4 197.9,313.9 196.0,314.5 194.1,315.1 192.2,315.8 190.3,316.4 188.4,317.1 186.6,317.9 184.7,318.6 182.9,319.4 181.0,320.2 179.2,321.0 177.4,321.9 175.7,322.8 173.9,323.8 172.2,324.8 170.5,325.9 168.8,326.9 167.1,328.0 165.4,329.1 163.7,330.2 162.1,331.3 160.4,332.4 158.7,333.5 157.0,334.6 155.3,335.6 153.6,336.6 151.9,337.7 150.2,338.7 148.5,339.9 146.9,341.0 145.3,342.2 143.7,343.5 142.2,344.8 140.7,346.1 139.2,347.4 137.7,348.8 136.3,350.2 134.8,351.5 133.4,352.9 132.0,354.4 130.6,355.8 129.1,357.2 127.7,358.6 126.3,360.0" stroke="#4BACC6" stroke-width="3.3"/>
<path d="M126.9,396.8 L127.0,394.8 127.1,392.8 127.2,390.8 127.3,388.8 127.4,386.8 127.5,384.8 127.6,382.8 127.7,380.8 127.8,378.8 127.9,376.8 128.1,374.8 128.2,372.8 128.3,370.8 128.5,368.8 128.7,366.9 128.8,364.9 129.0,362.9 129.2,360.9 129.4,358.9 129.6,356.9 129.8,354.9 130.1,352.9 130.3,350.9 130.5,348.9 130.8,347.0 131.0,345.0 131.3,343.0 131.6,341.0 131.8,339.0 132.1,337.1 132.5,335.1 132.8,333.1 133.1,331.1 133.4,329.2 133.8,327.2 134.2,325.2 134.5,323.3 135.0,321.3 135.4,319.4 135.9,317.4 136.4,315.5 136.9,313.6 137.5,311.6 138.1,309.7 138.6,307.8 139.2,305.9 139.8,304.0 140.4,302.1 140.9,300.1 141.5,298.2 142.0,296.3 142.5,294.4 143.0,292.4 143.6,290.5 144.2,288.6 144.7,286.7 145.3,284.8 146.0,282.9 146.6,281.0 147.3,279.1 148.0,277.2 148.8,275.4 149.6,273.6 150.5,271.8 151.4,270.0 152.3,268.2 153.3,266.5 154.2,264.7 155.2,263.0 156.2,261.2 157.2,259.5 158.3,257.8 159.3,256.1 160.4,254.4 161.4,252.7 162.5,251.0 163.6,249.3 164.7,247.7 165.8,246.0 167.0,244.4 168.1,242.7 169.3,241.2 170.6,239.6 171.9,238.1 173.3,236.6 174.7,235.2 176.0,233.8 177.4,232.3 178.9,230.9 180.3,229.5 181.7,228.1 183.2,226.7 184.6,225.4 186.1,224.0 187.6,222.7 189.1,221.4 190.6,220.1 192.1,218.8 193.7,217.5 195.2,216.2 196.8,215.0 198.3,213.7 199.9,212.5 201.5,211.3 203.1,210.1 204.7,208.9 206.4,207.7 208.0,206.6 209.6,205.4 211.3,204.3 213.0,203.3 214.7,202.2 216.4,201.2 218.2,200.2 219.9,199.3 221.7,198.3 223.5,197.5 225.3,196.6 227.1,195.8 228.9,195.0 230.8,194.3 232.7,193.6 234.6,192.9 236.5,192.3 238.4,191.7 240.3,191.1 242.2,190.5 244.1,189.9 246.0,189.3 247.9,188.7 249.9,188.2 251.8,187.7 253.7,187.2 255.7,186.7 257.6,186.2 259.5,185.7 261.5,185.2 263.4,184.8 265.4,184.3 267.3,183.9 269.3,183.4 271.2,183.0 273.2,182.6 275.2,182.2 277.1,181.8 279.1,181.5 281.1,181.1 283.0,180.8 285.0,180.4 287.0,180.1 288.9,179.8 290.9,179.5 292.9,179.2 294.9,178.9 296.8,178.5 298.8,178.2 300.8,177.9 302.8,177.5 304.7,177.1 306.7,176.8 308.7,176.4 310.6,176.0 312.6,175.6 314.5,175.2 316.5,174.8 318.5,174.4 320.4,174.0 322.4,173.5 324.3,173.1 326.2,172.6 328.2,172.1 330.1,171.6 332.0,171.1 334.0,170.5 335.9,170.0 337.8,169.5 339.7,168.9 341.7,168.3 343.6,167.7 345.5,167.1 347.4,166.4 349.2,165.8 351.1,165.1 353.0,164.4 354.9,163.8 356.8,163.2 358.7,162.6 360.6,162.0 362.5,161.3 364.4,160.6 366.2,159.8 368.0,158.9 369.8,158.0 371.5,157.0 373.2,155.9 374.9,154.9 376.6,153.8 378.2,152.7 379.9,151.5 381.5,150.4 383.1,149.2 384.7,147.9 386.2,146.7 387.8,145.4 389.3,144.1 390.8,142.8 392.3,141.5 393.7,140.1 395.2,138.7 396.5,137.2 397.9,135.8 399.2,134.3 400.5,132.8 401.8,131.2 403.1,129.7 404.3,128.1 405.6,126.5 406.8,124.9 408.0,123.3 409.1,121.7 410.3,120.1 411.4,118.4 412.4,116.7 413.5,115.0 414.5,113.3 415.5,111.6 416.6,109.9 417.6,108.1 418.6,106.4 419.6,104.7 420.6,103.0 421.6,101.2 422.7,99.5 423.7,97.8 424.8,96.1 425.8,94.4 426.9,92.7 428.0,91.1 429.1,89.4 430.2,87.7 431.3,86.1 432.5,84.4 433.6,82.8 434.7,81.1 435.9,79.5 437.0,77.8 438.1,76.2 439.3,74.5 440.4,72.9 441.6,71.3 442.7,69.6 443.9,68.0 445.1,66.4 446.3,64.9 447.6,63.3 449.0,61.9 450.4,60.5 451.9,59.1 453.5,57.9 455.1,56.8 456.8,55.7 458.6,54.9 460.4,54.1 462.3,53.5 464.3,53.1 466.3,52.9 468.2,53.0 470.2,53.2 472.2,53.6 474.1,54.2 475.9,54.9 477.7,55.7 479.5,56.7 481.2,57.7 482.9,58.7 484.7,59.7 486.4,60.8 488.1,61.8 489.7,62.9 491.4,64.0 493.0,65.2 494.7,66.3 496.3,67.5 497.9,68.7 499.5,69.9 501.1,71.1 502.7,72.3 504.3,73.5 505.9,74.6 507.6,75.8 509.3,76.8 511.0,77.9 512.7,78.9 514.4,79.9 516.1,80.9 517.9,81.9 519.6,82.9 521.4,83.8 523.2,84.7 525.0,85.6 526.8,86.4 528.6,87.3 530.4,88.2 532.2,89.0 534.0,89.8 535.9,90.6 537.7,91.4 539.6,92.1 541.5,92.8 543.3,93.5 545.2,94.1 547.1,94.8 549.0,95.4 551.0,95.9 552.9,96.5 554.8,97.0 556.8,97.5 558.7,97.9 560.7,98.3 562.6,98.7 564.6,99.0 566.6,99.4 568.6,99.6 570.5,99.9 572.5,100.1 574.5,100.3 576.5,100.4 578.5,100.5 580.5,100.6 582.5,100.7 584.5,100.8 586.5,100.8 588.5,100.9 590.5,100.9 592.5,101.0 593.5,101.0 L593.6,103.0 593.7,105.0 593.8,107.0 593.8,109.0 593.8,111.0 593.7,113.0 593.5,115.0 593.2,116.9 592.8,118.9 592.3,120.8 591.7,122.7 591.0,124.6 590.2,126.5 589.4,128.3 588.5,130.1 587.6,131.8 586.6,133.6 585.5,135.3 584.5,137.0 583.4,138.7 582.4,140.4 581.4,142.1 580.4,143.9 579.4,145.6 578.3,147.3 577.2,148.9 575.9,150.5 574.6,151.9 573.2,153.4 571.7,154.7 570.3,156.1 568.9,157.5 567.4,158.9 566.0,160.3 564.6,161.7 563.2,163.1 561.7,164.5 560.2,165.8 558.6,167.0 557.0,168.2 555.4,169.4 553.7,170.5 552.0,171.6 550.4,172.7 548.7,173.8 547.1,174.9 545.4,176.1 543.7,177.2 542.1,178.3 540.4,179.4 538.7,180.5 537.1,181.6 535.4,182.7 533.7,183.8 532.0,184.9 530.4,186.0 528.7,187.0 527.0,188.1 525.2,189.1 523.5,190.2 521.8,191.2 520.1,192.3 518.5,193.4 516.8,194.5 515.2,195.6 513.5,196.8 511.9,197.9 510.3,199.1 508.7,200.3 507.1,201.5 505.5,202.8 504.0,204.1 502.5,205.4 501.1,206.8 499.6,208.2 498.2,209.6 496.9,211.1 495.5,212.5 494.1,214.0 492.8,215.5 491.5,217.0 490.2,218.5 488.8,220.0 487.5,221.5 486.2,223.0 484.8,224.4 483.4,225.8 482.0,227.3 480.7,228.7 479.4,230.3 478.2,231.9 477.1,233.6 476.1,235.3 475.1,237.0 474.1,238.7 473.1,240.5 472.1,242.2 471.1,244.0 470.2,245.7 469.2,247.5 468.3,249.3 467.3,251.0 466.4,252.8 465.5,254.6 464.6,256.4 463.7,258.1 462.7,259.9 461.9,261.7 461.0,263.5 460.1,265.3 459.2,267.1 458.3,268.9 457.5,270.7 456.6,272.5 455.7,274.3 454.8,276.1 454.0,277.9 453.1,279.7 452.2,281.5 451.3,283.3 450.4,285.1 449.5,286.8 448.6,288.6 447.7,290.4 446.8,292.2 445.9,294.0 445.0,295.8 444.1,297.6 443.2,299.4 442.3,301.2 441.5,303.0 440.6,304.8 439.7,306.5 438.8,308.3 437.9,310.1 436.9,311.9 435.9,313.6 434.9,315.3 433.9,317.1 432.9,318.8 431.9,320.5 430.8,322.2 429.8,323.9 428.7,325.6 427.5,327.2 426.4,328.9 425.2,330.5 424.0,332.1 422.7,333.6 421.4,335.1 420.0,336.6 418.6,338.0 417.2,339.4 415.7,340.7 414.2,342.0 412.6,343.2 410.9,344.3 409.2,345.4 407.5,346.3 405.7,347.2 403.8,348.0 402.0,348.7 400.0,349.2 398.1,349.6 396.1,349.7 394.1,349.7 392.2,349.5 390.2,349.1 388.3,348.7 386.3,348.1 384.4,347.5 382.5,346.9 380.6,346.2 378.7,345.6 376.9,344.9 375.0,344.2 373.1,343.5 371.3,342.8 369.4,342.0 367.5,341.3 365.7,340.5 363.8,339.8 361.9,339.2 360.0,338.5 358.1,338.0 356.2,337.4 354.2,336.9 352.3,336.4 350.4,335.9 348.4,335.5 346.5,335.0 344.5,334.6 342.6,334.1 340.6,333.7 338.7,333.3 336.7,332.9 334.7,332.5 332.8,332.1 330.8,331.8 328.8,331.4 326.9,331.0 324.9,330.7 322.9,330.4 320.9,330.1 319.0,329.7 317.0,329.5 315.0,329.2 313.0,328.9 311.0,328.7 309.1,328.4 307.1,328.2 305.1,328.0 303.1,327.8 301.1,327.6 299.1,327.4 297.1,327.3 295.1,327.1 293.1,327.0 291.1,326.9 289.1,326.8 287.1,326.7 285.1,326.6 283.1,326.6 281.1,326.5 279.1,326.5 277.1,326.5 275.1,326.4 273.1,326.4 271.1,326.4 269.1,326.4 267.1,326.4 265.1,326.4 263.1,326.4 261.1,326.4 259.1,326.4 257.1,326.5 255.1,326.5 253.1,326.6 251.1,326.7 249.1,326.8 247.1,326.9 245.1,327.0 243.1,327.2 241.1,327.4 239.1,327.6 237.2,327.9 235.2,328.1 233.2,328.4 231.2,328.7 229.2,328.9 227.3,329.2 225.3,329.6 223.3,329.9 221.3,330.3 219.4,330.6 217.4,331.0 215.5,331.4 213.5,331.9 211.6,332.3 209.6,332.8 207.7,333.4 205.8,334.0 203.9,334.6 202.0,335.2 200.1,336.0 198.3,336.7 196.4,337.5 194.6,338.4 192.8,339.3 191.1,340.2 189.3,341.2 187.6,342.2 185.9,343.2 184.2,344.2 182.5,345.3 180.8,346.4 179.1,347.5 177.5,348.6 175.8,349.7 174.2,350.9 172.6,352.1 171.0,353.3 169.4,354.6 167.9,355.8 166.3,357.1 164.8,358.4 163.3,359.7 161.8,361.0 160.3,362.3 158.8,363.7 157.3,365.0 155.8,366.4 154.4,367.7 152.9,369.1 151.5,370.5 150.0,371.9 148.6,373.3 147.2,374.7 145.8,376.1 144.4,377.6 143.0,379.0 141.6,380.5 140.3,381.9 138.9,383.4 137.5,384.8 136.2,386.3 134.8,387.8 133.5,389.3 132.2,390.8 130.8,392.3 129.5,393.8 128.2,395.3 126.9,396.8" stroke="#F79646" stroke-width="3.3"/>
</g>
<text transform="translate(56.00,9.20) scale(1.150,1)" text-anchor="end" class="tick">0.025</text>
<text transform="translate(56.00,53.60) scale(1.150,1)" text-anchor="end" class="tick">0.02</text>
<text transform="translate(56.00,98.00) scale(1.150,1)" text-anchor="end" class="tick">0.015</text>
<text transform="translate(56.00,142.40) scale(1.150,1)" text-anchor="end" class="tick">0.01</text>
<text transform="translate(56.00,186.80) scale(1.150,1)" text-anchor="end" class="tick">0.005</text>
<text transform="translate(56.00,231.20) scale(1.150,1)" text-anchor="end" class="tick">0</text>
<text transform="translate(56.00,275.60) scale(1.150,1)" text-anchor="end" class="tick">-0.005</text>
<text transform="translate(56.00,320.00) scale(1.150,1)" text-anchor="end" class="tick">-0.01</text>
<text transform="translate(56.00,364.40) scale(1.150,1)" text-anchor="end" class="tick">-0.015</text>
<text transform="translate(56.00,408.80) scale(1.150,1)" text-anchor="end" class="tick">-0.02</text>
<text transform="translate(56.00,453.20) scale(1.150,1)" text-anchor="end" class="tick">-0.025</text>
<text transform="translate(69.20,472.00) scale(1.120,1)" text-anchor="middle" class="tick">-0.4</text>
<text transform="translate(127.48,472.00) scale(1.120,1)" text-anchor="middle" class="tick">-0.3</text>
<text transform="translate(185.76,472.00) scale(1.120,1)" text-anchor="middle" class="tick">-0.2</text>
<text transform="translate(244.04,472.00) scale(1.120,1)" text-anchor="middle" class="tick">-0.1</text>
<text transform="translate(302.32,472.00) scale(1.120,1)" text-anchor="middle" class="tick">0</text>
<text transform="translate(360.60,472.00) scale(1.120,1)" text-anchor="middle" class="tick">0.1</text>
<text transform="translate(418.88,472.00) scale(1.120,1)" text-anchor="middle" class="tick">0.2</text>
<text transform="translate(477.16,472.00) scale(1.120,1)" text-anchor="middle" class="tick">0.3</text>
<text transform="translate(535.44,472.00) scale(1.120,1)" text-anchor="middle" class="tick">0.4</text>
<text transform="translate(593.72,472.00) scale(1.120,1)" text-anchor="middle" class="tick">0.5</text>
<text transform="translate(652.00,472.00) scale(1.120,1)" text-anchor="middle" class="tick">0.6</text>
<text transform="translate(69.50,19.90) scale(1.000,1)" text-anchor="start" class="leg">(a)</text>
<text transform="translate(94.60,19.90) scale(1.100,1)" text-anchor="start" class="leg">bare electrode</text>
<text transform="translate(69.50,49.10) scale(1.000,1)" text-anchor="start" class="leg">(b)</text>
<text transform="translate(94.60,49.10) scale(1.100,1)" text-anchor="start" class="leg">GOx</text>
<text transform="translate(69.50,78.30) scale(1.000,1)" text-anchor="start" class="leg">(c)</text>
<text transform="translate(94.60,78.30) scale(1.100,1)" text-anchor="start" class="leg">rGO/PEI</text>
<text transform="translate(69.50,107.50) scale(1.000,1)" text-anchor="start" class="leg">(d)</text>
<text transform="translate(94.00,107.50) scale(1.100,1)" text-anchor="start" class="leg">rGO/PEI/Frt/GOx</text>
<text transform="translate(69.50,136.70) scale(1.000,1)" text-anchor="start" class="leg">(e)</text>
<text transform="translate(94.00,136.70) scale(1.100,1)" text-anchor="start" class="leg">rGO/PEI/AgNWs/Frt/GOx</text>
<text transform="translate(69.50,165.90) scale(1.000,1)" text-anchor="start" class="leg">(f)</text>
<text transform="translate(97.50,165.90) scale(1.092,1)" text-anchor="start" class="leg">rGO/PEI/AgNWs@Naph-SH/Frt/GOx</text>
<text transform="translate(606.50,70.00) scale(1.180,1)" text-anchor="start" class="rl">(f)</text>
<text transform="translate(606.50,109.00) scale(1.180,1)" text-anchor="start" class="rl">(e)</text>
<text transform="translate(606.50,147.80) scale(1.180,1)" text-anchor="start" class="rl">(d)</text>
<text transform="translate(606.50,168.00) scale(1.180,1)" text-anchor="start" class="rl">(c)</text>
<text transform="translate(606.50,206.20) scale(1.180,1)" text-anchor="start" class="rl">(b)</text>
<text transform="translate(606.50,225.00) scale(1.180,1)" text-anchor="start" class="rl">(a)</text>
<text transform="translate(344.80,505.00) scale(1.080,1)" text-anchor="middle" class="ttl">Potential&#160;&#160;(V)</text>
<text transform="translate(14.00,305.30) rotate(-90) scale(1.050,1)" class="ttl">Current</text>
<text transform="translate(14.00,230.50) rotate(-90) scale(1.115,1)" class="ttl">(A cm<tspan dy="-6" font-size="11">-2</tspan><tspan dy="6">)</tspan></text>
</svg>
</body></html>
